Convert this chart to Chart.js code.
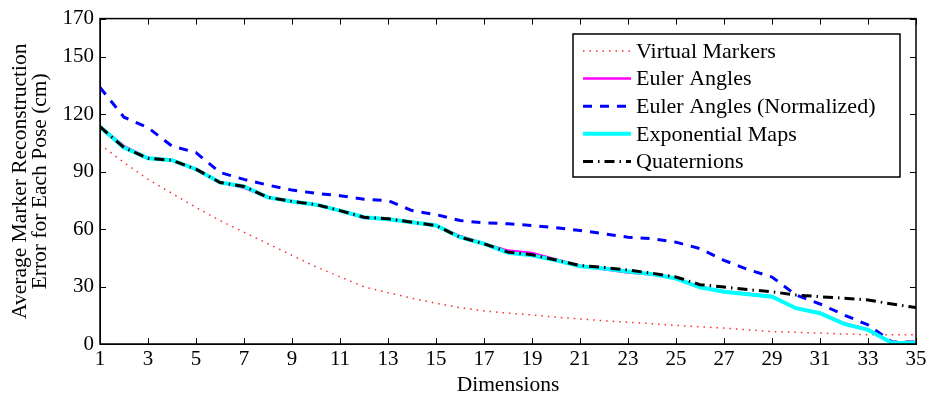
<!DOCTYPE html>
<html>
<head>
<meta charset="utf-8">
<script src="https://cdn.jsdelivr.net/npm/chart.js@4/dist/chart.umd.min.js"></script>
<style>
  html, body { margin: 0; padding: 0; background: #fff; }
  canvas { display: block; }
</style>
</head>
<body>
<canvas id="errChart" width="930" height="398"></canvas>
<script>
// reconstruction error per number of dimensions
const dimensions = Array.from({ length: 35 }, (_, i) => i + 1);
const yTicks = [0, 30, 60, 90, 120, 150, 170];

const virtualMarkers = [104.3, 94.8, 86, 78.7, 71.4, 64.5, 58.4, 52.4, 46.3, 40.3, 35.1, 29.9, 26.8, 23.9, 21.3, 19, 17.3, 16.1, 15.2, 14, 13.1, 12.1, 11.4, 10.6, 9.7, 9, 8.3, 7.4, 6.5, 6.1, 5.7, 5.2, 4.8, 4.8, 4.8];
const eulerAngles = [113.5, 103.4, 97.3, 96.2, 91.3, 84.6, 81.6, 76.6, 74.5, 72.8, 69.7, 65.8, 65.4, 63.6, 61.9, 56.4, 52.4, 48.8, 47.6, 44.2, 40.9, 39, 37.4, 36.3, 34.2, 29.8, 27.5, 26.2, 24.9, 18.5, 16.4, 10.8, 7.6, 0.6, 0.6];
const eulerNormalized = [134, 118.5, 113, 103.4, 100, 89.6, 86, 83, 80.4, 78.7, 77.5, 75.6, 74.9, 69.7, 67.6, 64.5, 63.3, 62.8, 61.9, 60.7, 59.3, 57.6, 55.8, 55, 53.2, 49.8, 43.7, 38.9, 35, 25.6, 20.9, 15.2, 10, 1, 1];
const exponentialMaps = [113.5, 102.6, 97, 96, 91.3, 84.4, 82.3, 76.6, 74.5, 72.8, 69.7, 66.2, 65.2, 63.6, 61.9, 55.8, 52.4, 47.6, 46.3, 43.7, 40.6, 39.4, 37.9, 36.5, 34.2, 29.6, 27.3, 26, 24.7, 18.7, 16.1, 10.5, 7.4, 0.5, 0.5];
const quaternions = [113.5, 102.6, 97, 96, 91.3, 84.4, 82.3, 76.6, 74.5, 72.8, 69.7, 66.2, 65.4, 63.6, 61.9, 55.8, 52.4, 48, 46.6, 43.9, 41, 40, 38.6, 37, 35, 31, 29.8, 28.4, 27.3, 25.6, 24.7, 23.9, 23, 20.9, 19];

const FONT = 'Liberation Serif, Times New Roman, serif';

// box around the plot, inward ticks on all four sides, legend inside
const frame = {
  id: 'frame',
  afterDraw(chart) {
    const { ctx, chartArea: a, scales } = chart;
    ctx.save();
    ctx.strokeStyle = '#000';
    ctx.lineWidth = 1;
    ctx.beginPath();
    scales.x.ticks.forEach(t => {
      const px = Math.round(scales.x.getPixelForValue(t.value)) + 0.5;
      ctx.moveTo(px, a.bottom); ctx.lineTo(px, a.bottom - 6);
      ctx.moveTo(px, a.top); ctx.lineTo(px, a.top + 6);
    });
    scales.y.ticks.forEach(t => {
      const py = Math.round(scales.y.getPixelForValue(t.value)) + 0.5;
      ctx.moveTo(a.left, py); ctx.lineTo(a.left + 6, py);
      ctx.moveTo(a.right, py); ctx.lineTo(a.right - 6, py);
    });
    ctx.stroke();
    ctx.lineWidth = 1.5;
    ctx.strokeRect(a.left, a.top, a.right - a.left, a.bottom - a.top);

    // legend
    const bx = 573, by = 34, bw = 327, bh = 143;
    ctx.fillStyle = '#fff';
    ctx.fillRect(bx, by, bw, bh);
    ctx.lineWidth = 1.5;
    ctx.strokeRect(bx, by, bw, bh);
    ctx.font = '22px ' + FONT;
    ctx.textBaseline = 'middle';
    chart.data.datasets.forEach((ds, i) => {
      const y = by + 17 + i * 27.6;
      ctx.save();
      ctx.strokeStyle = ds.borderColor;
      ctx.lineWidth = ds.borderWidth;
      ctx.setLineDash(ds.borderDash || []);
      ctx.beginPath();
      ctx.moveTo(bx + 10, y); ctx.lineTo(bx + 58, y);
      ctx.stroke();
      ctx.restore();
      ctx.fillStyle = '#000';
      ctx.fillText(ds.label, bx + 63, y + 1);
    });
    ctx.restore();
  }
};

new Chart(document.getElementById('errChart'), {
  type: 'line',
  data: {
    labels: dimensions,
    datasets: [
      { label: 'Virtual Markers', data: virtualMarkers, borderColor: '#ff2a2a', borderWidth: 1.5, borderDash: [1.5, 5], order: 5 },
      { label: 'Euler Angles', data: eulerAngles, borderColor: '#ff00ff', borderWidth: 2.5, order: 4 },
      { label: 'Euler Angles (Normalized)', data: eulerNormalized, borderColor: '#0000ff', borderWidth: 3, borderDash: [9, 8], order: 3 },
      { label: 'Exponential Maps', data: exponentialMaps, borderColor: '#00ffff', borderWidth: 4, order: 2 },
      { label: 'Quaternions', data: quaternions, borderColor: '#000000', borderWidth: 3, borderDash: [10, 5, 1.5, 5], order: 1 }
    ]
  },
  options: {
    responsive: false,
    animation: false,
    layout: { padding: { left: 0, right: 14, top: 17, bottom: 0 } },
    elements: { point: { radius: 0 }, line: { tension: 0 } },
    plugins: { legend: { display: false }, tooltip: { enabled: false } },
    scales: {
      x: {
        type: 'linear',
        min: 1, max: 35,
        afterBuildTicks(s) { s.ticks = dimensions.filter(d => d % 2 === 1).map(v => ({ value: v })); },
        afterFit(s) { s.height = 54; },
        grid: { display: true, drawOnChartArea: false, drawTicks: false },
        border: { display: true, color: '#000' },
        ticks: { color: '#000', font: { family: FONT, size: 21 }, padding: 3, maxRotation: 0 },
        title: { display: true, text: 'Dimensions', color: '#000', font: { family: FONT, size: 21.5 }, padding: { top: 0, bottom: 0 } }
      },
      y: {
        min: 0, max: 170,
        afterBuildTicks(s) { s.ticks = yTicks.map(v => ({ value: v })); },
        afterFit(s) { s.width = 100; },
        grid: { display: true, drawOnChartArea: false, drawTicks: false },
        border: { display: true, color: '#000' },
        ticks: { color: '#000', font: { family: FONT, size: 21 }, padding: 6 },
        title: {
          display: true,
          text: ['Average Marker Reconstruction', 'Error for Each Pose (cm)'],
          color: '#000', font: { family: FONT, size: 21.5, lineHeight: 0.95 }, padding: { top: 10, bottom: 0 }
        }
      }
    }
  },
  plugins: [frame]
});
</script>
</body>
</html>
